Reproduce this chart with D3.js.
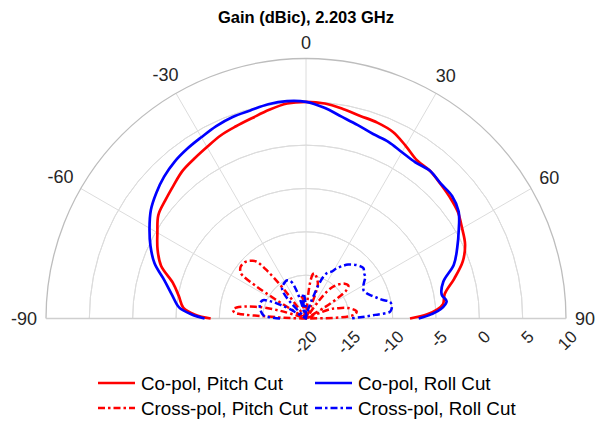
<!DOCTYPE html>
<html><head><meta charset="utf-8">
<script src="https://cdn.jsdelivr.net/npm/d3@7"></script>
<style>body{margin:0;background:#fff} svg{display:block}</style>
</head><body>
<svg id="chart" width="607" height="423"></svg>
<script>
// ---------------- data ----------------
const chartTitle = "Gain (dBic), 2.203 GHz";
const thetaTicks = [-90, -60, -30, 0, 30, 60, 90];
const rTicks = [-20, -15, -10, -5, 0, 5, 10];
const rLimits = [-20, 10];

const coPitchAngles = [-90,-88,-85,-80,-75,-70,-65,-60,-55,-50,-45,-40,-35,-30,-25,-20,-15,-10,-5,0,5,10,15,20,25,30,35,40,45,50,55,60,65,70,75,80,84,86,88,90];
const coPitchValues = [-9.0,-7.2,-5.8,-5.1,-4.1,-2.2,-1.1,-0.2,0.8,1.2,1.65,2.2,2.5,2.85,3.3,3.6,3.95,4.45,4.9,5.0,4.9,4.55,4.2,4.05,3.75,3.0,2.3,2.25,1.95,1.7,1.4,0.8,0.25,-0.75,-2.3,-3.75,-4.1,-4.8,-6.0,-8.0];

const coRollAngles = [-90,-88,-85,-80,-75,-70,-65,-60,-55,-50,-45,-40,-35,-30,-25,-20,-15,-10,-5,0,5,10,15,20,25,30,35,40,45,50,55,60,65,70,75,80,83,86,88,90];
const coRollValues = [-8.3,-6.8,-5.3,-4.3,-3.1,-1.4,-0.2,0.85,1.85,2.55,3.15,3.6,3.9,4.15,4.5,4.75,4.85,5.1,5.18,5.0,4.4,3.65,3.1,2.65,2.5,2.15,2.0,2.25,2.0,2.0,1.5,0.35,-0.75,-1.85,-3.6,-4.1,-3.65,-4.4,-5.5,-7.0];

const crossPitchAngles = [-90,-89,-88,-87,-86,-85,-83,-81,-79,-77,-75,-73,-71,-65,-59,-58,-57,-56,-55,-52,-49,-46,-43,-41,-39,-37,-35,-16,-13,-10,-7,-4,3,5,7,9,11,13,16,19,21,23,33,36,38,40,44,48,52,55,57,59,61,67,69,72,76,80,82,85,87,88.5,90];
const crossPitchValues = [-20,-19.5,-17.5,-15.5,-12.2,-11.7,-11.5,-11.9,-12.8,-14.0,-15.3,-17.3,-20,-20,-20,-16,-13,-11.3,-10.8,-10.4,-10.35,-10.5,-10.9,-11.3,-13,-16,-20,-20,-18.5,-17.2,-18.5,-20,-20,-17.5,-15.5,-14.8,-14.7,-14.9,-15.3,-15.8,-17,-20,-20,-17.5,-16,-15.3,-14.5,-14.0,-13.8,-14.3,-15.5,-17.5,-20,-20,-17,-16.2,-15.0,-14.3,-14.1,-14.3,-15.0,-16.5,-20];

const crossRollAngles = [-90,-88,-86,-82,-78,-74,-70,-67,-64,-62,-60,-58,-46,-44,-41,-38,-34,-30,-27,-24,-21,-19,-17,-15,-12,-10,-8,-6,-4,-2,0,7,10,14,17,19,20.5,22.5,25,28.5,31,34,38,43,47,49,52,55,58,61,64,67,70,73,76,79,82,84,85.5,87,88.5,90];
const crossRollValues = [-17,-15.8,-15.1,-14.8,-14.6,-14.45,-14.45,-14.6,-15.5,-16.6,-17.8,-20,-20,-17.5,-16.0,-15.5,-15.3,-15.15,-15.08,-15.2,-15.6,-16.5,-18,-20,-20,-18.5,-17.4,-17.1,-17.4,-18.5,-20,-20,-19.5,-18.8,-17.8,-17,-15.8,-14.8,-14.2,-13.85,-13.3,-12.75,-12.1,-11.55,-11.25,-11.2,-11.5,-11.65,-12.1,-12.45,-12.6,-12.45,-12.1,-11.6,-11.0,-10.1,-10.0,-10.1,-10.3,-12.0,-13.5,-14.9];

const seriesNames = ["Co-pol, Pitch Cut", "Co-pol, Roll Cut", "Cross-pol, Pitch Cut", "Cross-pol, Roll Cut"];
const seriesColors = ["#ff0000", "#0000ff", "#ff0000", "#0000ff"];

// ---------------- drawing ----------------
const svg = d3.select("#chart");
const cx = 306, cy = 318.5, R = 260;
const toRad = Math.PI / 180;
const rScale = d3.scaleLinear().domain(rLimits).range([0, R]).clamp(true);
const fontFam = "'Liberation Sans', Arial, Helvetica, sans-serif";

const g = svg.append("g").attr("transform", `translate(${cx},${cy})`);

// grid rings
const arcGen = (r) => d3.arc()({innerRadius: r, outerRadius: r, startAngle: -Math.PI/2, endAngle: Math.PI/2});
rTicks.slice(1, -1).forEach(t => {
  g.append("path").attr("d", arcGen(rScale(t))).attr("fill", "none")
    .attr("stroke", "#dcdcdc").attr("stroke-width", 1);
});
// spokes
thetaTicks.forEach(t => {
  if (Math.abs(t) === 90) return;
  g.append("line").attr("x1", 0).attr("y1", 0)
    .attr("x2", R * Math.sin(t * toRad)).attr("y2", -R * Math.cos(t * toRad))
    .attr("stroke", "#dcdcdc").attr("stroke-width", 1);
});
// boundary
g.append("path").attr("d", arcGen(R)).attr("fill", "none").attr("stroke", "#bdbdbd").attr("stroke-width", 1.3);
g.append("line").attr("x1", -R).attr("x2", R).attr("y1", 0).attr("y2", 0)
  .attr("stroke", "#cfcfcf").attr("stroke-width", 1.6);

// clip
svg.append("defs").append("clipPath").attr("id", "half")
  .append("rect").attr("x", -R - 5).attr("y", -R - 5).attr("width", 2 * R + 10).attr("height", R + 6.5);

const mk = (angles, values) => angles.map((a, i) => ({a: a, v: values[i]}));
const series = [
  mk(coPitchAngles, coPitchValues),
  mk(coRollAngles, coRollValues),
  mk(crossPitchAngles, crossPitchValues),
  mk(crossRollAngles, crossRollValues)
];
const lineGen = d3.lineRadial()
  .angle(d => d.a * toRad)
  .radius(d => rScale(Math.max(d.v, rLimits[0])))
  .curve(d3.curveCatmullRom.alpha(0.5));

const dashCross = "7,3,2.5,3";
const plotG = g.append("g").attr("clip-path", "url(#half)");
[2, 3, 0, 1].forEach(i => {
  plotG.append("path").attr("d", lineGen(series[i]))
    .attr("fill", "none").attr("stroke", seriesColors[i])
    .attr("stroke-width", i < 2 ? 2.7 : 2.5)
    .attr("stroke-linejoin", "round")
    .attr("stroke-dasharray", i < 2 ? null : dashCross);
});

// theta labels
const thFont = 18;
thetaTicks.forEach(t => {
  const txt = g.append("text").text(String(t))
    .attr("font-family", fontFam).attr("font-size", thFont).attr("fill", "#262626")
    .attr("text-anchor", "middle").attr("dominant-baseline", "central");
  const hw = txt.node().getComputedTextLength() / 2;
  const hh = thFont * 0.36;
  const s = Math.sin(t * toRad), c = Math.cos(t * toRad);
  const off = 9 + hw * Math.abs(s) + hh * Math.abs(c);
  txt.attr("x", (R + off) * s).attr("y", -(R + off) * c);
});

// r tick labels
rTicks.forEach(t => {
  const x = rScale(t) + 8.3, y = 15.5;
  g.append("text").text(String(t))
    .attr("font-family", fontFam).attr("font-size", 17).attr("fill", "#262626")
    .attr("text-anchor", "end").attr("dominant-baseline", "central")
    .attr("transform", `translate(${x},${y}) rotate(-45)`);
});

// title
svg.append("text").text(chartTitle).attr("x", cx).attr("y", 17)
  .attr("font-family", fontFam).attr("font-size", 16.5).attr("font-weight", "bold")
  .attr("fill", "#000").attr("text-anchor", "middle").attr("dominant-baseline", "central");

// legend
const legPos = [[98, 383], [315, 383], [98, 408], [315, 408]];
seriesNames.forEach((name, i) => {
  const [lx, ly] = legPos[i];
  svg.append("line").attr("x1", lx).attr("x2", lx + 37).attr("y1", ly).attr("y2", ly)
    .attr("stroke", seriesColors[i]).attr("stroke-width", i < 2 ? 2.7 : 2.5)
    .attr("stroke-dasharray", i < 2 ? null : dashCross);
  svg.append("text").text(name).attr("x", lx + 43).attr("y", ly)
    .attr("font-family", fontFam).attr("font-size", 18.8).attr("fill", "#000")
    .attr("dominant-baseline", "central");
});
</script>
</body></html>
